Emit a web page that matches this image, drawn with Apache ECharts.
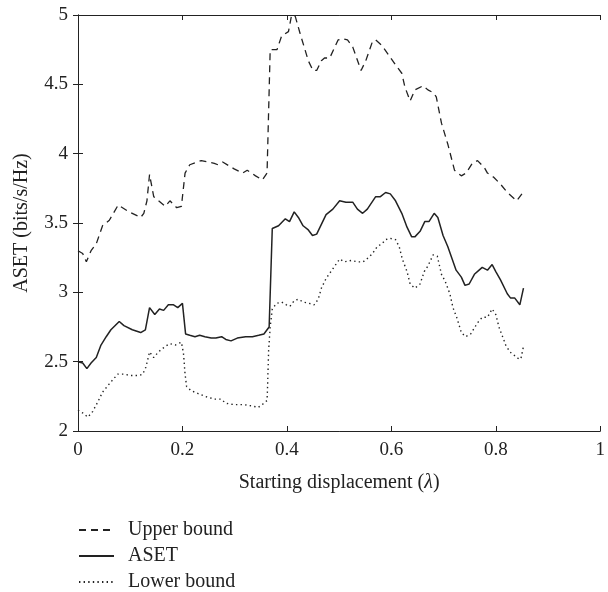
<!DOCTYPE html>
<html style="height: 100%">
<head>
<meta charset="utf-8" />
<title>ASET</title>
<script type="text/javascript" src="https://cdn.jsdelivr.net/npm/echarts@6/dist/echarts.min.js"></script>
</head>
<body style="height: 100%; margin: 0;">
<div id="container" style="width: 608px; height: 592px"></div>
<script type="text/javascript">
// values
var upperX = [0, 0.009, 0.016, 0.025, 0.035, 0.047, 0.060, 0.077, 0.098, 0.120, 0.126, 0.132, 0.137, 0.145, 0.167, 0.176, 0.189, 0.198, 0.205, 0.214, 0.236, 0.261, 0.268, 0.277, 0.299, 0.315, 0.324, 0.340, 0.353, 0.362, 0.368, 0.381, 0.390, 0.403, 0.406, 0.409, 0.416, 0.425, 0.441, 0.450, 0.457, 0.466, 0.472, 0.482, 0.498, 0.507, 0.516, 0.526, 0.542, 0.551, 0.564, 0.570, 0.582, 0.595, 0.608, 0.620, 0.626, 0.636, 0.645, 0.661, 0.670, 0.680, 0.686, 0.696, 0.708, 0.721, 0.734, 0.743, 0.755, 0.765, 0.778, 0.784, 0.796, 0.809, 0.822, 0.840, 0.850];
var upperY = [3.30, 3.28, 3.22, 3.30, 3.35, 3.48, 3.52, 3.63, 3.58, 3.54, 3.57, 3.66, 3.85, 3.69, 3.62, 3.66, 3.61, 3.62, 3.86, 3.92, 3.95, 3.93, 3.92, 3.94, 3.89, 3.86, 3.88, 3.84, 3.81, 3.86, 4.75, 4.75, 4.85, 4.88, 4.94, 5.00, 4.99, 4.87, 4.67, 4.60, 4.60, 4.67, 4.69, 4.69, 4.82, 4.83, 4.82, 4.77, 4.60, 4.67, 4.81, 4.82, 4.78, 4.71, 4.64, 4.58, 4.48, 4.38, 4.46, 4.49, 4.46, 4.44, 4.41, 4.22, 4.07, 3.88, 3.84, 3.86, 3.93, 3.95, 3.90, 3.86, 3.83, 3.78, 3.72, 3.66, 3.71];

var asetX = [0, 0.009, 0.017, 0.025, 0.035, 0.044, 0.054, 0.063, 0.079, 0.088, 0.104, 0.120, 0.129, 0.137, 0.147, 0.156, 0.164, 0.173, 0.183, 0.191, 0.200, 0.206, 0.214, 0.224, 0.233, 0.243, 0.255, 0.264, 0.275, 0.283, 0.293, 0.305, 0.321, 0.334, 0.346, 0.356, 0.362, 0.366, 0.372, 0.384, 0.397, 0.405, 0.414, 0.422, 0.431, 0.441, 0.449, 0.457, 0.466, 0.475, 0.488, 0.501, 0.513, 0.526, 0.535, 0.545, 0.554, 0.570, 0.579, 0.589, 0.598, 0.608, 0.620, 0.630, 0.639, 0.645, 0.655, 0.664, 0.672, 0.682, 0.689, 0.699, 0.708, 0.724, 0.734, 0.741, 0.749, 0.759, 0.768, 0.774, 0.784, 0.793, 0.800, 0.809, 0.822, 0.828, 0.836, 0.846, 0.853];
var asetY = [2.50, 2.49, 2.45, 2.49, 2.53, 2.62, 2.68, 2.73, 2.79, 2.76, 2.73, 2.71, 2.73, 2.89, 2.84, 2.88, 2.87, 2.91, 2.91, 2.89, 2.92, 2.70, 2.69, 2.68, 2.69, 2.68, 2.67, 2.67, 2.68, 2.66, 2.65, 2.67, 2.68, 2.68, 2.69, 2.70, 2.73, 2.75, 3.46, 3.48, 3.53, 3.51, 3.58, 3.54, 3.48, 3.45, 3.41, 3.42, 3.49, 3.56, 3.60, 3.66, 3.65, 3.65, 3.60, 3.57, 3.60, 3.69, 3.69, 3.72, 3.71, 3.66, 3.57, 3.47, 3.40, 3.40, 3.44, 3.51, 3.51, 3.57, 3.54, 3.41, 3.33, 3.16, 3.11, 3.05, 3.06, 3.13, 3.16, 3.18, 3.16, 3.20, 3.15, 3.09, 2.99, 2.96, 2.96, 2.91, 3.03];

var lowerX = [0, 0.009, 0.019, 0.028, 0.038, 0.047, 0.060, 0.076, 0.088, 0.101, 0.117, 0.124, 0.130, 0.137, 0.145, 0.154, 0.167, 0.176, 0.186, 0.198, 0.202, 0.205, 0.208, 0.217, 0.230, 0.243, 0.261, 0.274, 0.283, 0.299, 0.318, 0.334, 0.345, 0.356, 0.362, 0.363, 0.365, 0.368, 0.372, 0.380, 0.390, 0.399, 0.406, 0.414, 0.422, 0.431, 0.443, 0.452, 0.460, 0.466, 0.475, 0.488, 0.501, 0.510, 0.523, 0.535, 0.546, 0.556, 0.564, 0.573, 0.582, 0.589, 0.597, 0.608, 0.615, 0.621, 0.630, 0.636, 0.645, 0.655, 0.663, 0.670, 0.680, 0.688, 0.696, 0.703, 0.712, 0.718, 0.726, 0.734, 0.742, 0.752, 0.765, 0.774, 0.784, 0.793, 0.800, 0.806, 0.812, 0.819, 0.827, 0.834, 0.844, 0.848, 0.853];
var lowerY = [2.15, 2.13, 2.10, 2.14, 2.21, 2.28, 2.34, 2.41, 2.41, 2.40, 2.40, 2.41, 2.46, 2.57, 2.53, 2.57, 2.61, 2.63, 2.62, 2.64, 2.56, 2.41, 2.32, 2.29, 2.27, 2.25, 2.23, 2.23, 2.20, 2.19, 2.19, 2.18, 2.17, 2.20, 2.22, 2.32, 2.58, 2.75, 2.88, 2.92, 2.93, 2.91, 2.90, 2.94, 2.95, 2.93, 2.92, 2.91, 2.95, 3.03, 3.10, 3.17, 3.24, 3.22, 3.23, 3.22, 3.22, 3.25, 3.28, 3.33, 3.35, 3.38, 3.39, 3.38, 3.33, 3.24, 3.15, 3.06, 3.03, 3.06, 3.15, 3.19, 3.27, 3.26, 3.13, 3.08, 2.99, 2.89, 2.81, 2.71, 2.68, 2.70, 2.78, 2.82, 2.82, 2.88, 2.84, 2.75, 2.69, 2.62, 2.57, 2.55, 2.52, 2.52, 2.61];

var seriesNames = ['Upper bound', 'ASET', 'Lower bound'];

function pairs(xs, ys) {
    var out = [];
    for (var i = 0; i < xs.length; i++) {
        out.push([xs[i], ys[i]]);
    }
    return out;
}

var font = 'Liberation Serif';
var ink = '#222';

var myChart = echarts.init(document.getElementById('container'));

var baseAxis = {
    axisLine: { show: true, lineStyle: { color: ink, width: 1 } },
    axisTick: { show: true, inside: true, length: 5, lineStyle: { color: ink } },
    splitLine: { show: false }
};

// one legend block per series, stacked under the plot
var legends = seriesNames.map(function (name, i) {
    return {
        orient: 'vertical',
        left: 78,
        top: 520 + i * 26,
        padding: 0,
        itemWidth: 35,
        itemHeight: 14,
        itemStyle: { opacity: 0 },
        data: [name],
        textStyle: { fontFamily: font, fontSize: 20, color: ink, padding: [0, 0, 0, 9] }
    };
});

var option = {
    animation: false,
    textStyle: { fontFamily: font, color: ink },
    grid: { left: 78, top: 15, right: 1, bottom: 161 },
    legend: legends,
    xAxis: [
        Object.assign({}, baseAxis, {
            type: 'value', min: 0, max: 1, interval: 0.2, position: 'bottom',
            axisLabel: { fontFamily: font, fontSize: 19, color: ink, margin: 10 },
            name: 'Starting displacement ({i|λ})',
            nameLocation: 'middle',
            nameGap: 42,
            nameTextStyle: { fontFamily: font, fontSize: 20, color: ink,
                rich: { i: { fontFamily: font, fontSize: 20, fontStyle: 'italic', color: ink } } }
        }),
        Object.assign({}, baseAxis, {
            type: 'value', min: 0, max: 1, interval: 0.2, position: 'top',
            axisLabel: { show: false }
        })
    ],
    yAxis: [
        Object.assign({}, baseAxis, {
            type: 'value', min: 2, max: 5, interval: 0.5, position: 'left',
            axisLabel: { fontFamily: font, fontSize: 19, color: ink, margin: 10 },
            name: 'ASET (bits/s/Hz)',
            nameLocation: 'middle',
            nameGap: 46,
            nameTextStyle: { fontFamily: font, fontSize: 20, color: ink }
        }),
        Object.assign({}, baseAxis, {
            type: 'value', min: 2, max: 5, interval: 0.5, position: 'right',
            axisLabel: { show: false }
        })
    ],
    series: [
        {
            name: seriesNames[0], type: 'line', symbol: 'none', color: ink,
            lineStyle: { width: 1.3, type: [7, 5] },
            data: pairs(upperX, upperY)
        },
        {
            name: seriesNames[1], type: 'line', symbol: 'none', color: ink,
            lineStyle: { width: 1.5, type: 'solid' },
            data: pairs(asetX, asetY)
        },
        {
            name: seriesNames[2], type: 'line', symbol: 'none', color: ink,
            lineStyle: { width: 1.4, type: [1.4, 3.2] },
            data: pairs(lowerX, lowerY)
        }
    ]
};

myChart.setOption(option);
</script>
</body>
</html>
